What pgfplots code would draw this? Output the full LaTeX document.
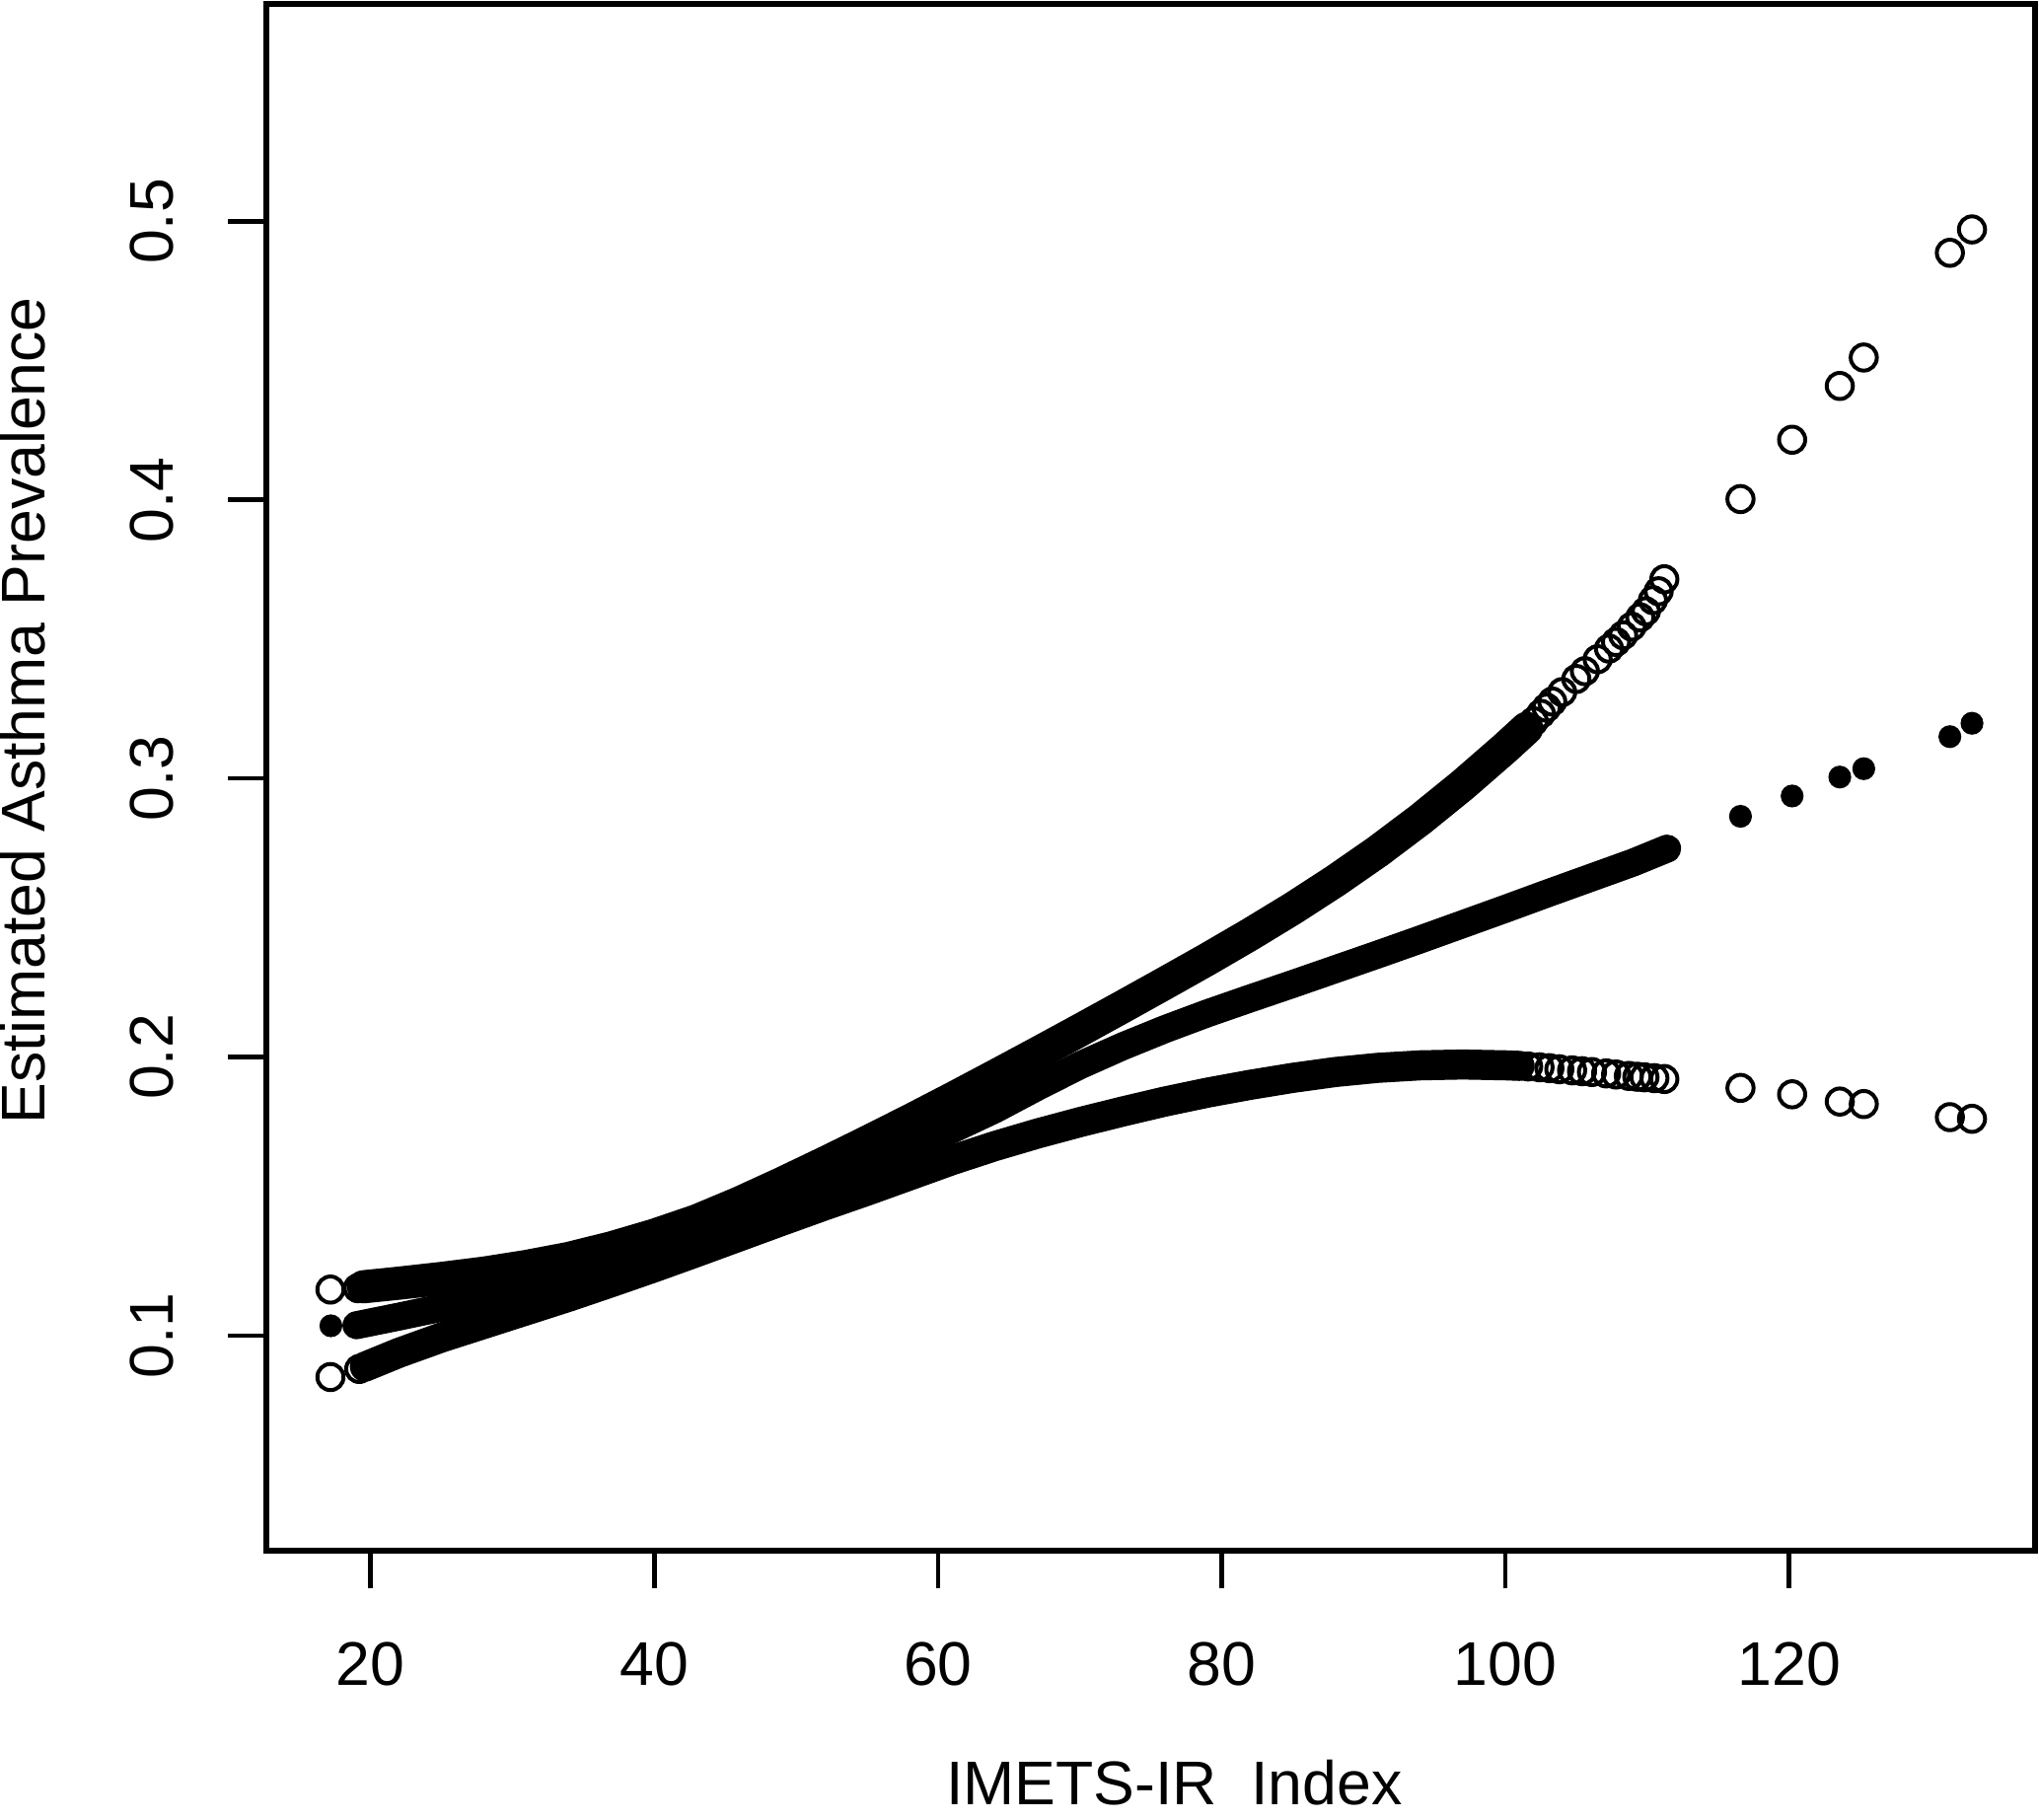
\documentclass[border=0pt]{standalone}
\usepackage{pgfplots}
\usepackage{pgfplotstable}
\pgfplotsset{compat=1.18}
\usepackage{fontspec}
\setmainfont{Liberation Sans}

% dense upper confidence band (drawn as a thick stroke of overlapping circles)
\pgfplotstableread{
x y
19.5 0.1175
22 0.1188
25 0.1205
28 0.1224
31 0.1248
34 0.1277
37 0.1315
40 0.1360
43 0.1412
46 0.1476
49 0.1546
52 0.1619
55 0.1694
58 0.1771
61 0.1850
64 0.1931
67 0.2013
70 0.2096
73 0.2180
76 0.2265
79 0.2351
82 0.2440
85 0.2533
88 0.2632
91 0.2738
94 0.2853
97 0.2977
100 0.3110
101.5 0.3180
}\upperdense
% individually visible upper circles
\pgfplotstableread{
x y
17.17 0.1165
19.1 0.1170
102.0 0.3205
102.5 0.3232
102.9 0.3254
103.3 0.3276
104.0 0.3310
105.0 0.3357
105.6 0.3385
106.5 0.3428
107.3 0.3466
107.8 0.3490
108.3 0.3514
108.9 0.3545
109.5 0.3578
109.9 0.3600
110.4 0.3640
110.8 0.3672
111.2 0.3715
116.57 0.4003
120.21 0.4216
123.57 0.4409
125.26 0.4511
131.33 0.4887
132.89 0.4971
}\uppersparse
% dense estimate
\pgfplotstableread{
x y
19.0 0.1037
22 0.1068
25 0.1100
28 0.1135
31 0.1172
34 0.1211
37 0.1252
40 0.1298
43 0.1350
46 0.1410
49 0.1473
52 0.1538
55 0.1604
58 0.1671
61 0.1740
64 0.1812
67 0.1893
70 0.1970
73 0.2038
76 0.2100
79 0.2157
82 0.2210
85 0.2262
88 0.2315
91 0.2368
94 0.2422
97 0.2477
100 0.2532
103 0.2588
106 0.2643
109 0.2698
111.4 0.2748
}\estdense
\pgfplotstableread{
x y
17.2 0.1035
116.57 0.2864
120.21 0.2937
123.57 0.3005
125.26 0.3035
131.33 0.3150
132.89 0.3198
}\estsparse
% dense lower confidence band
\pgfplotstableread{
x y
19.6 0.0888
22 0.0938
25 0.0993
28 0.1042
31 0.1091
34 0.1140
37 0.1192
40 0.1245
43 0.1300
46 0.1356
49 0.1412
52 0.1467
55 0.1520
58 0.1575
61 0.1630
64 0.1680
67 0.1725
70 0.1766
73 0.1804
76 0.1840
79 0.1872
82 0.1900
85 0.1925
88 0.1946
91 0.1961
94 0.1970
97 0.1973
100 0.1970
101 0.1968
}\lowerdense
\pgfplotstableread{
x y
17.17 0.0851
19.2 0.0880
101.6 0.1966
102.4 0.1963
103.1 0.1960
103.8 0.1956
104.7 0.1952
105.4 0.1949
106.1 0.1946
107.1 0.1941
107.8 0.1937
108.7 0.1932
109.3 0.1929
109.8 0.1927
110.5 0.1924
111.2 0.1921
116.57 0.1889
120.21 0.1866
123.57 0.1840
125.26 0.1831
131.33 0.1784
132.89 0.1778
}\lowersparse

\begin{document}
\begin{tikzpicture}
\useasboundingbox (-2.046cm,-2.064cm) rectangle (13.634cm,11.926cm);
\begin{axis}[
  at={(0,0)}, anchor=south west,
  width=13.604cm, height=11.899cm, scale only axis,
  xmin=12.63, xmax=137.34, ymin=0.0227, ymax=0.5782,
  axis line style={line width=1.3pt, black},
  tick style={line width=1pt, black},
  tick align=outside, major tick length=0.29cm,
  xtick pos=left, ytick pos=left,
  xtick={20,40,60,80,100,120},
  xticklabels={20,40,60,80,100,120},
  ytick={0.1,0.2,0.3,0.4,0.5},
  yticklabels={0.1,0.2,0.3,0.4,0.5},
  /pgf/number format/assume math mode=true,
  tick label style={font=\fontsize{13.5}{16}\selectfont},
  xticklabel style={anchor=north, inner sep=0pt, yshift=-0.4026cm},
  yticklabel style={xshift=-0.4155cm, rotate=90, anchor=south, inner sep=0pt},
]
\addplot[black, line width=0.215cm, line cap=round, line join=round, mark=none] table {\estdense};
\addplot[black, line width=0.255cm, line cap=round, line join=round, mark=none] table {\upperdense};
\addplot[black, line width=0.2314cm, line cap=round, line join=round, mark=none] table {\lowerdense};
\addplot[only marks, mark=*, mark size=2.3pt, mark options={fill=black, draw=black, line width=0.4pt}] table {\estsparse};
\addplot[only marks, mark=o, mark size=2.86pt, mark options={draw=black, line width=0.86pt}] table {\uppersparse};
\addplot[only marks, mark=o, mark size=2.86pt, mark options={draw=black, line width=0.86pt}] table {\lowersparse};
\end{axis}
\node[anchor=base, inner sep=0pt, font=\fontsize{13.5}{16}\selectfont] at (6.984cm,-1.95cm) {IMETS-IR\ \ Index};
\node[rotate=90, anchor=base, inner sep=0pt, font=\fontsize{13.5}{16}\selectfont] at (-1.7046cm,6.463cm) {Estimated Asthma Prevalence};
\end{tikzpicture}
\end{document}
